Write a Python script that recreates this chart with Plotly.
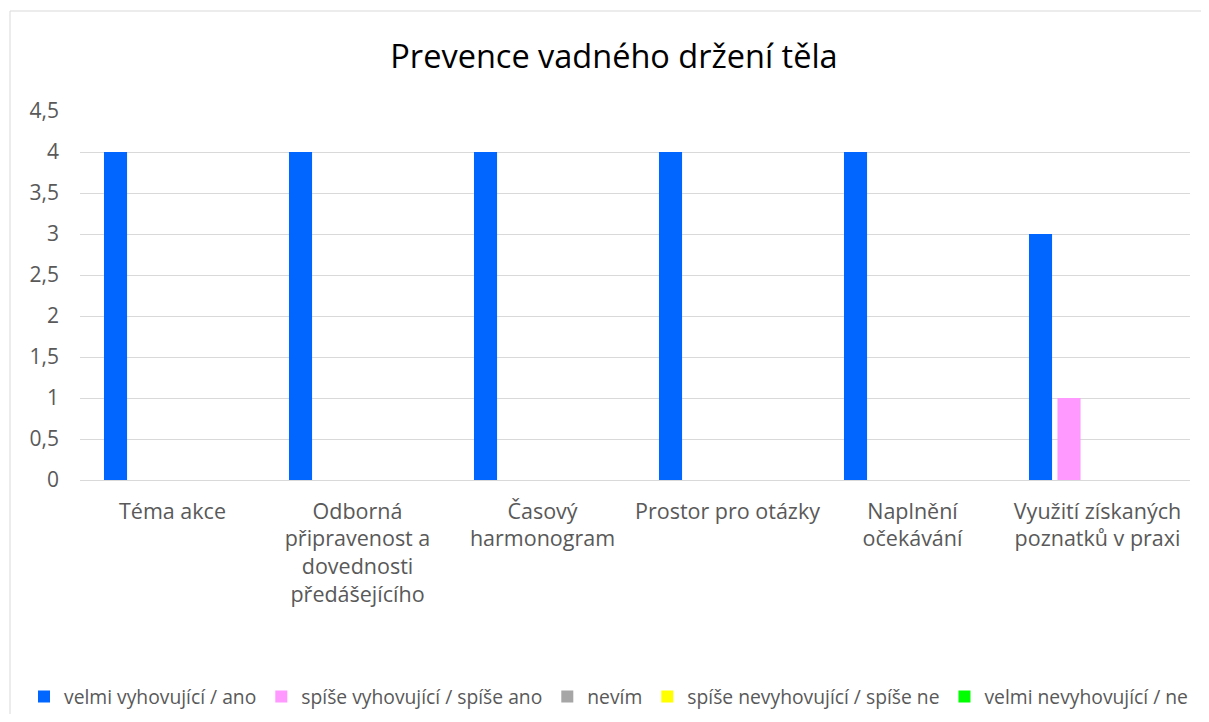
import plotly.graph_objects as go

categories = [
    "Téma akce",
    "Odborná<br>připravenost a<br>dovednosti<br>předášejícího",
    "Časový<br>harmonogram",
    "Prostor pro otázky",
    "Naplnění<br>očekávání",
    "Využití získaných<br>poznatků v praxi",
]
series_names = [
    "velmi vyhovující / ano",
    "spíše vyhovující / spíše ano",
    "nevím",
    "spíše nevyhovující / spíše ne",
    "velmi nevyhovující / ne",
]
velmi_vyhovujici = [4, 4, 4, 4, 4, 3]
spise_vyhovujici = [0, 0, 0, 0, 0, 1]
nevim = [0, 0, 0, 0, 0, 0]
spise_nevyhovujici = [0, 0, 0, 0, 0, 0]
velmi_nevyhovujici = [0, 0, 0, 0, 0, 0]
series_values = [velmi_vyhovujici, spise_vyhovujici, nevim, spise_nevyhovujici, velmi_nevyhovujici]
colors = ["#0066FF", "#FF99FF", "#A6A6A6", "#FFFF00", "#00FF00"]
y_ticks = [0, 0.5, 1, 1.5, 2, 2.5, 3, 3.5, 4, 4.5]

# page has an 8px body margin; figure sized so page = 1209x722
W, H = 1201, 706
L, R, T, B = 72, 19, 103, 234

fig = go.Figure()
for name, vals, col in zip(series_names, series_values, colors):
    fig.add_trace(go.Bar(x=categories, y=vals, name=name, marker_color=col,
                         marker_line_width=0))

pw = W - L - R
ph = H - T - B
# chart frame (top and left edges; right/bottom lie outside the picture)
bx0, by0 = (2 - L) / pw, (H - B - 3) / ph
fig.add_shape(type="line", xref="paper", yref="paper", x0=bx0, x1=(1260 - L) / pw,
              y0=by0, y1=by0, line=dict(color="#D9D9D9", width=1), layer="below")
fig.add_shape(type="line", xref="paper", yref="paper", x0=bx0, x1=bx0,
              y0=by0, y1=(H - B - 760) / ph, line=dict(color="#D9D9D9", width=1), layer="below")

fig.update_layout(
    width=W, height=H,
    margin=dict(l=L, r=R, t=T, b=B, autoexpand=False),
    paper_bgcolor="white", plot_bgcolor="white",
    separators=", ",
    barmode="group", bargap=0.23, bargroupgap=0.19,
    font=dict(family="Open Sans", size=21, color="#595959"),
    title=dict(text="Prevence vadného držení těla", x=(606 - L) / pw, xanchor="center",
               xref="paper", y=1 - 49 / H, yanchor="middle", yref="container",
               font=dict(family="Open Sans", size=32.5, color="#000000")),
    showlegend=True,
    legend=dict(orientation="h", x=(16 - L) / pw, xanchor="left",
                y=-(689 - (H - B)) / ph, yanchor="middle",
                font=dict(family="Open Sans", size=19.3, color="#595959"),
                itemclick=False, traceorder="normal"),
    xaxis=dict(showgrid=False, showline=False, ticks="", ticklabelstandoff=16,
               tickfont=dict(size=21.5, color="#595959")),
    yaxis=dict(range=[0, 4.5], tickvals=y_ticks, showgrid=True, gridcolor="#D9D9D9",
               gridwidth=1, zeroline=True, zerolinecolor="#D9D9D9", zerolinewidth=1,
               showline=False, ticks="", ticklabelstandoff=20,
               tickfont=dict(size=21, color="#595959")),
)

fig.write_html(
    "out.html",
    config={"displayModeBar": False},
    post_script="document.documentElement.style.overflow='hidden';"
                "document.body.style.overflow='hidden';",
)
